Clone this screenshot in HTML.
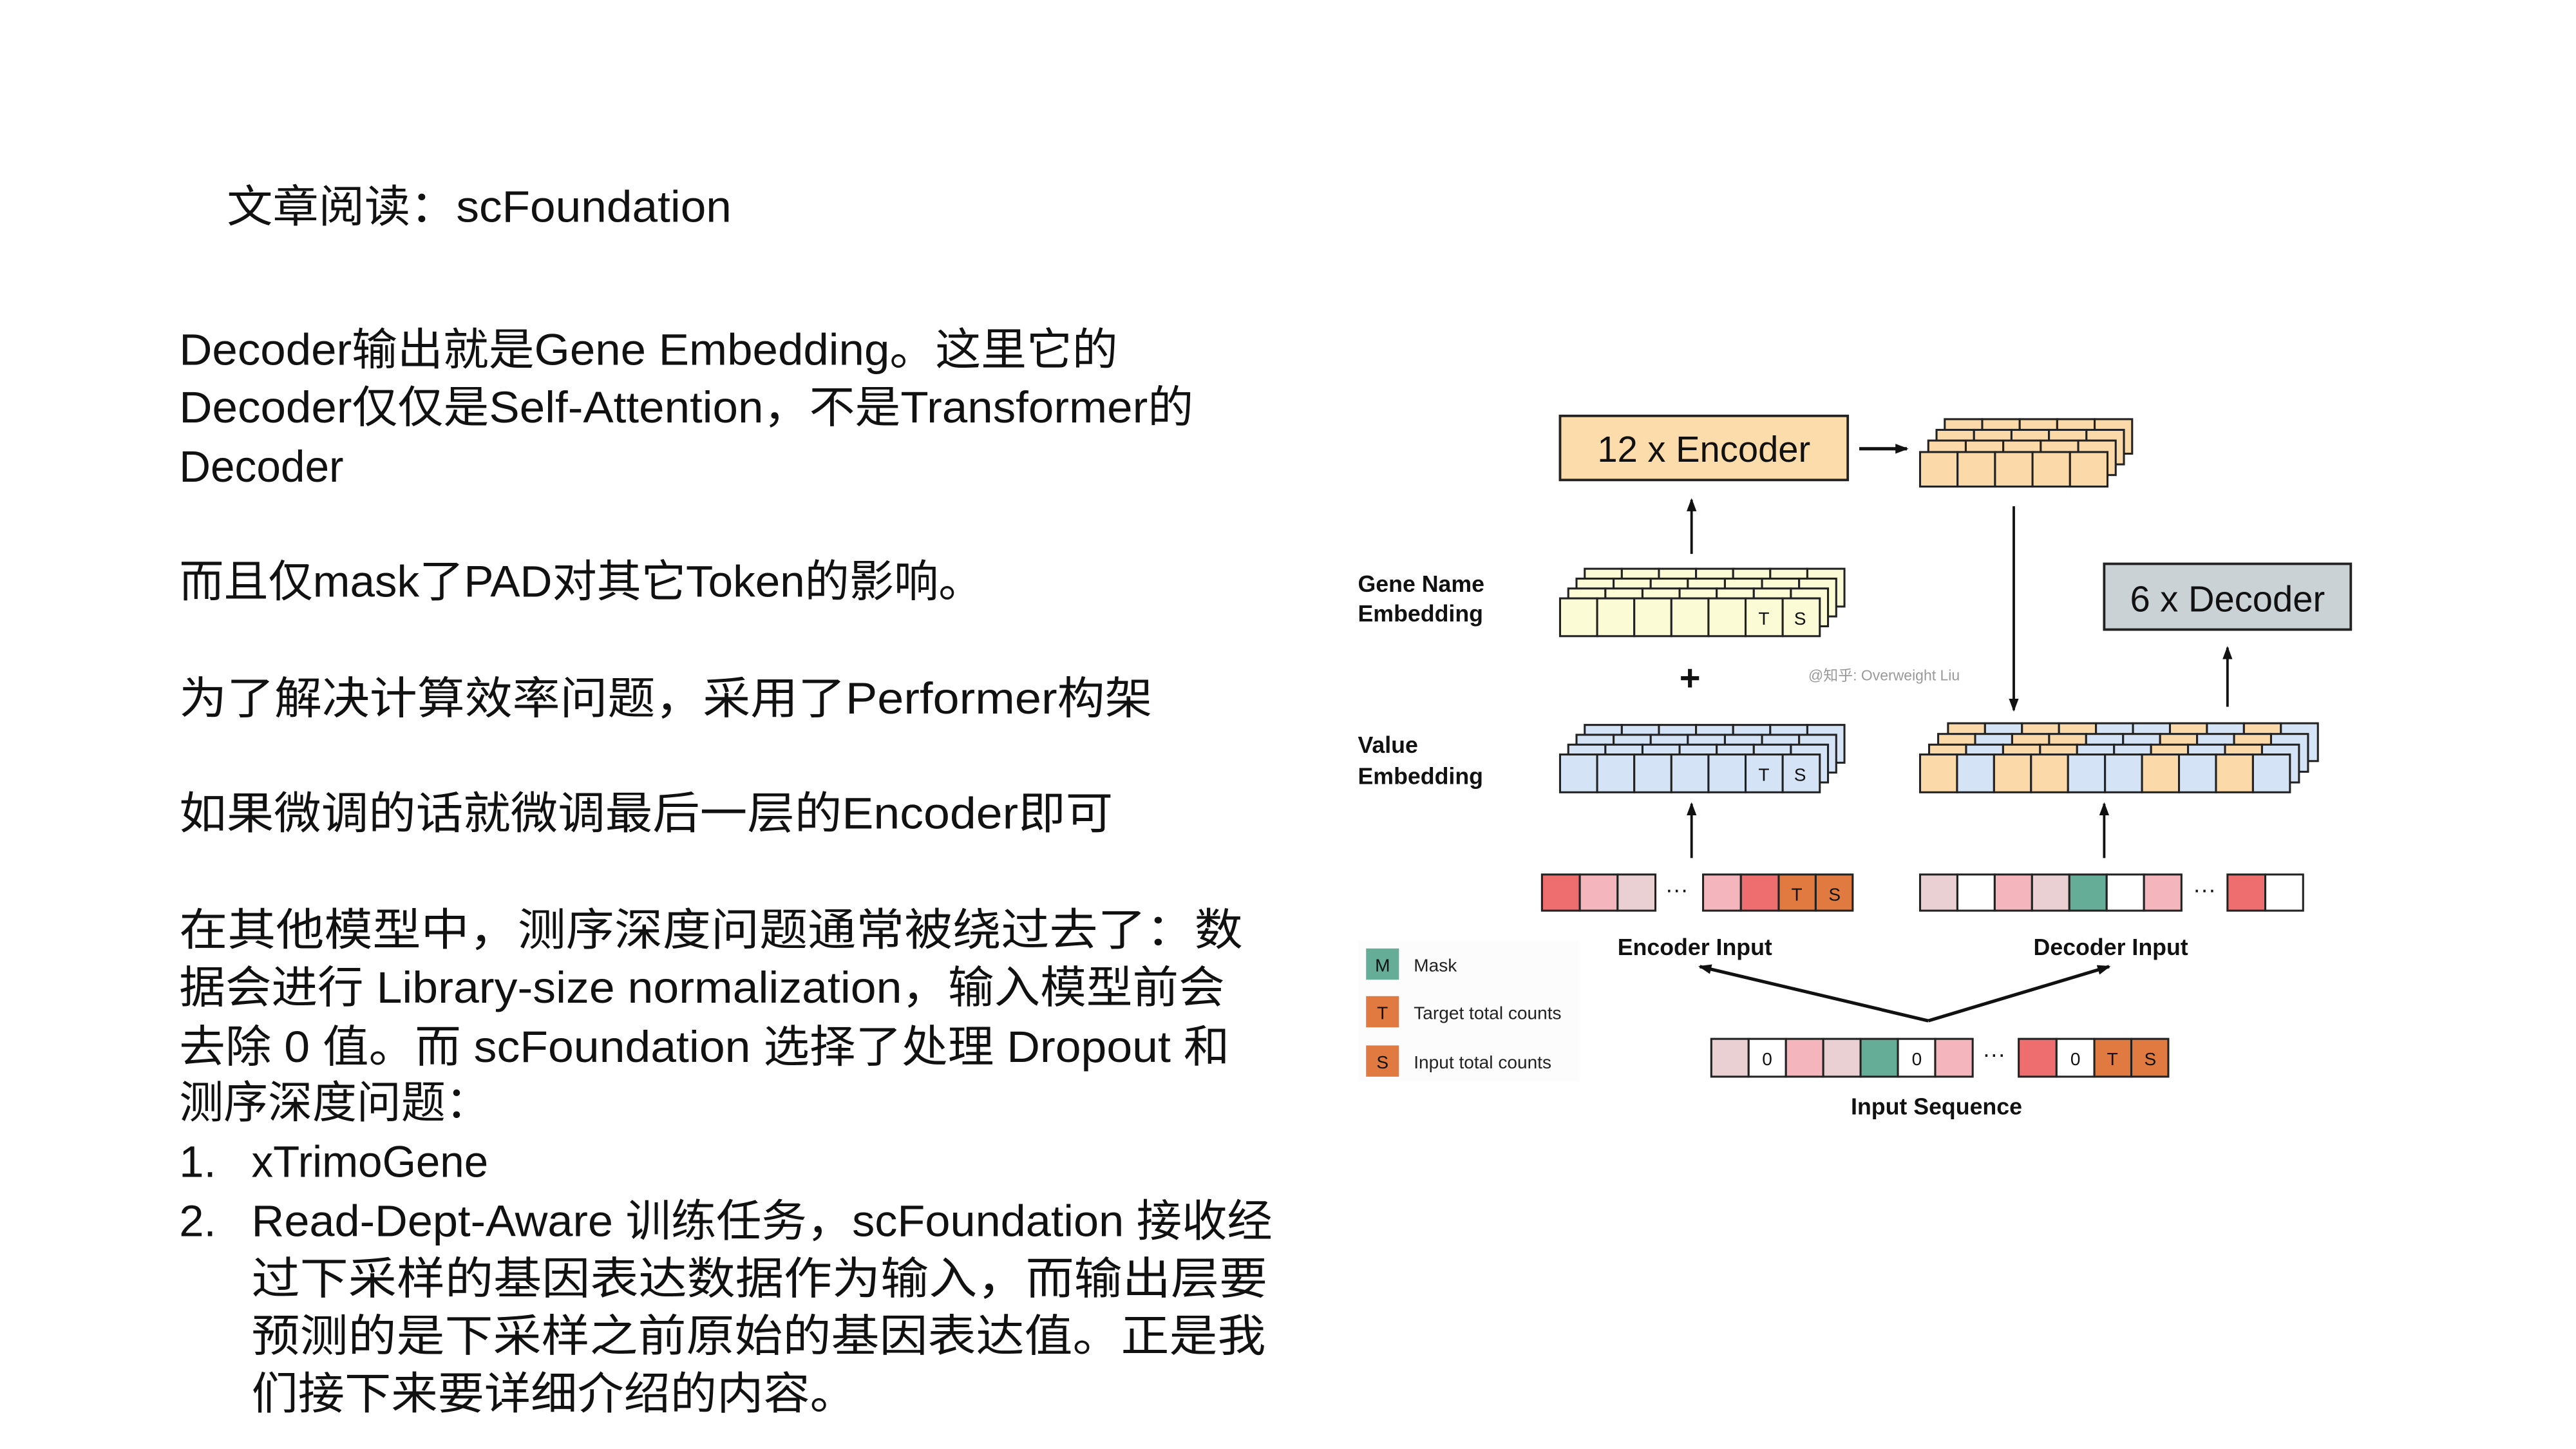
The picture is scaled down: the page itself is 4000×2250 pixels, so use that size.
<!DOCTYPE html>
<html><head><meta charset="utf-8"><style>
html,body{margin:0;padding:0;background:#fff;width:4000px;height:2250px;overflow:hidden}
svg{display:block}
.t{font-family:"Liberation Sans","Noto Sans CJK SC",sans-serif;font-size:27px;fill:#111}
.b{font-family:"Liberation Sans",sans-serif;font-weight:bold;font-size:14px;fill:#111}
.s{font-family:"Liberation Sans",sans-serif;font-size:11px;fill:#222}
.c{font-family:"Liberation Sans",sans-serif;font-size:11px;fill:#111;text-anchor:middle}
</style></head><body>
<svg width="4000" height="2250" viewBox="0 0 1567 881.5" preserveAspectRatio="none" xmlns="http://www.w3.org/2000/svg">
<defs>
<marker id="ah" markerWidth="8" markerHeight="8" refX="7" refY="4" orient="auto" markerUnits="userSpaceOnUse"><path d="M0,1 L8,4 L0,7 z" fill="#111"/></marker>
<g id="gl" stroke="#222" stroke-width="1.2" fill="#fbfbd6">
<rect x="0" y="0" width="22.57" height="23"/><rect x="22.57" y="0" width="22.57" height="23"/><rect x="45.14" y="0" width="22.57" height="23"/><rect x="67.71" y="0" width="22.57" height="23"/><rect x="90.28" y="0" width="22.57" height="23"/><rect x="112.85" y="0" width="22.57" height="23"/><rect x="135.42" y="0" width="22.57" height="23"/>
</g>
<g id="vl" stroke="#222" stroke-width="1.2" fill="#d5e3f7">
<rect x="0" y="0" width="22.57" height="23"/><rect x="22.57" y="0" width="22.57" height="23"/><rect x="45.14" y="0" width="22.57" height="23"/><rect x="67.71" y="0" width="22.57" height="23"/><rect x="90.28" y="0" width="22.57" height="23"/><rect x="112.85" y="0" width="22.57" height="23"/><rect x="135.42" y="0" width="22.57" height="23"/>
</g>
<g id="ol" stroke="#222" stroke-width="1.2" fill="#fcd9a8">
<rect x="0" y="0" width="22.8" height="21"/><rect x="22.8" y="0" width="22.8" height="21"/><rect x="45.6" y="0" width="22.8" height="21"/><rect x="68.4" y="0" width="22.8" height="21"/><rect x="91.2" y="0" width="22.8" height="21"/>
</g>
<g id="dl" stroke="#222" stroke-width="1.2">
<rect x="0" y="0" width="22.5" height="23" fill="#fcd9a8"/><rect x="22.5" y="0" width="22.5" height="23" fill="#d5e3f7"/><rect x="45" y="0" width="22.5" height="23" fill="#fcd9a8"/><rect x="67.5" y="0" width="22.5" height="23" fill="#fcd9a8"/><rect x="90" y="0" width="22.5" height="23" fill="#d5e3f7"/><rect x="112.5" y="0" width="22.5" height="23" fill="#d5e3f7"/><rect x="135" y="0" width="22.5" height="23" fill="#fcd9a8"/><rect x="157.5" y="0" width="22.5" height="23" fill="#d5e3f7"/><rect x="180" y="0" width="22.5" height="23" fill="#fcd9a8"/><rect x="202.5" y="0" width="22.5" height="23" fill="#d5e3f7"/>
</g>
</defs>

<text class="t" x="138" y="135" textLength="307" lengthAdjust="spacingAndGlyphs">文章阅读：scFoundation</text>
<text class="t" x="109" y="222" textLength="571" lengthAdjust="spacingAndGlyphs">Decoder输出就是Gene Embedding。这里它的</text>
<text class="t" x="109" y="257" textLength="617" lengthAdjust="spacingAndGlyphs">Decoder仅仅是Self-Attention，不是Transformer的</text>
<text class="t" x="109" y="293" textLength="100" lengthAdjust="spacingAndGlyphs">Decoder</text>
<text class="t" x="109" y="363" textLength="489" lengthAdjust="spacingAndGlyphs">而且仅mask了PAD对其它Token的影响。</text>
<text class="t" x="109" y="434" textLength="592" lengthAdjust="spacingAndGlyphs">为了解决计算效率问题，采用了Performer构架</text>
<text class="t" x="109" y="504" textLength="568" lengthAdjust="spacingAndGlyphs">如果微调的话就微调最后一层的Encoder即可</text>
<text class="t" x="109" y="575" textLength="647" lengthAdjust="spacingAndGlyphs">在其他模型中，测序深度问题通常被绕过去了：数</text>
<text class="t" x="109" y="610" textLength="636" lengthAdjust="spacingAndGlyphs">据会进行 Library-size normalization，输入模型前会</text>
<text class="t" x="109" y="646" textLength="639" lengthAdjust="spacingAndGlyphs">去除 0 值。而 scFoundation 选择了处理 Dropout 和</text>
<text class="t" x="109" y="680" textLength="189" lengthAdjust="spacingAndGlyphs">测序深度问题：</text>
<text class="t" x="109" y="716">1.</text>
<text class="t" x="153" y="716" textLength="144" lengthAdjust="spacingAndGlyphs">xTrimoGene</text>
<text class="t" x="109" y="752">2.</text>
<text class="t" x="153" y="752" textLength="621" lengthAdjust="spacingAndGlyphs">Read-Dept-Aware 训练任务，scFoundation 接收经</text>
<text class="t" x="153" y="787" textLength="618" lengthAdjust="spacingAndGlyphs">过下采样的基因表达数据作为输入，而输出层要</text>
<text class="t" x="153" y="822" textLength="617" lengthAdjust="spacingAndGlyphs">预测的是下采样之前原始的基因表达值。正是我</text>
<text class="t" x="153" y="857" textLength="368" lengthAdjust="spacingAndGlyphs">们接下来要详细介绍的内容。</text>

<rect x="949" y="253" width="175" height="39" fill="#fcdcab" stroke="#222" stroke-width="1.5"/>
<text x="1036.5" y="281" font-family="Liberation Sans,sans-serif" font-size="22" text-anchor="middle" fill="#111">12 x Encoder</text>
<line x1="1131" y1="273" x2="1160" y2="273" stroke="#111" stroke-width="2" marker-end="url(#ah)"/>
<use href="#ol" x="1183" y="255"/><use href="#ol" x="1178" y="261.5"/><use href="#ol" x="1173" y="268"/><use href="#ol" x="1168" y="275"/>

<line x1="1029" y1="337" x2="1029" y2="304" stroke="#111" stroke-width="1.5" marker-end="url(#ah)"/>

<text class="b" x="826" y="360">Gene Name</text>
<text class="b" x="826" y="378">Embedding</text>
<use href="#gl" x="964" y="346"/><use href="#gl" x="959" y="352"/><use href="#gl" x="954" y="358"/><use href="#gl" x="949" y="364"/>
<text class="c" x="1073" y="380">T</text><text class="c" x="1095" y="380">S</text>

<text x="1028" y="420" font-family="Liberation Sans,sans-serif" font-size="22" font-weight="bold" text-anchor="middle" fill="#111">+</text>
<text x="1100" y="414" font-family="Liberation Sans,'Noto Sans CJK SC',sans-serif" font-size="9" fill="#999">@知乎: Overweight Liu</text>

<text class="b" x="826" y="458">Value</text>
<text class="b" x="826" y="477">Embedding</text>
<use href="#vl" x="964" y="441"/><use href="#vl" x="959" y="447"/><use href="#vl" x="954" y="453"/><use href="#vl" x="949" y="459"/>
<text class="c" x="1073" y="475">T</text><text class="c" x="1095" y="475">S</text>

<line x1="1225" y1="308" x2="1225" y2="432" stroke="#111" stroke-width="1.5" marker-end="url(#ah)"/>

<rect x="1280" y="343" width="150" height="40" fill="#cbd2d6" stroke="#222" stroke-width="1.5"/>
<text x="1355" y="372" font-family="Liberation Sans,sans-serif" font-size="22" text-anchor="middle" fill="#111">6 x Decoder</text>
<line x1="1355" y1="430" x2="1355" y2="394" stroke="#111" stroke-width="1.5" marker-end="url(#ah)"/>

<use href="#dl" x="1185" y="440"/><use href="#dl" x="1179" y="446.5"/><use href="#dl" x="1173.5" y="453"/><use href="#dl" x="1168" y="459"/>

<line x1="1029" y1="522" x2="1029" y2="489" stroke="#111" stroke-width="1.5" marker-end="url(#ah)"/>
<line x1="1280" y1="522" x2="1280" y2="489" stroke="#111" stroke-width="1.5" marker-end="url(#ah)"/>

<g stroke="#222" stroke-width="1.2">
<rect x="938" y="532" width="23" height="22" fill="#ee6e70"/><rect x="961" y="532" width="23" height="22" fill="#f4b6bc"/><rect x="984" y="532" width="23" height="22" fill="#ebd0d3"/>
<rect x="1036" y="532" width="23" height="22" fill="#f4b6bc"/><rect x="1059" y="532" width="23" height="22" fill="#ee6e70"/><rect x="1082" y="532" width="22.5" height="22" fill="#e07a40"/><rect x="1104.5" y="532" width="22.5" height="22" fill="#e07a40"/>
</g>
<text x="1020" y="546" font-family="Liberation Sans,sans-serif" font-size="14" text-anchor="middle" fill="#111">···</text>
<text class="c" x="1093" y="548">T</text><text class="c" x="1116" y="548">S</text>

<g stroke="#222" stroke-width="1.2">
<rect x="1168" y="532" width="22.7" height="22" fill="#ebd0d3"/><rect x="1190.7" y="532" width="22.7" height="22" fill="#fff"/><rect x="1213.4" y="532" width="22.7" height="22" fill="#f4b6bc"/><rect x="1236.1" y="532" width="22.7" height="22" fill="#ebd0d3"/><rect x="1258.8" y="532" width="22.7" height="22" fill="#66ad97"/><rect x="1281.5" y="532" width="22.7" height="22" fill="#fff"/><rect x="1304.2" y="532" width="22.8" height="22" fill="#f4b6bc"/>
<rect x="1355" y="532" width="23" height="22" fill="#ee6e70"/><rect x="1378" y="532" width="23" height="22" fill="#fff"/>
</g>
<text x="1341" y="546" font-family="Liberation Sans,sans-serif" font-size="14" text-anchor="middle" fill="#111">···</text>

<text class="b" x="1031" y="581" text-anchor="middle">Encoder Input</text>
<text class="b" x="1284" y="581" text-anchor="middle">Decoder Input</text>

<line x1="1173" y1="621" x2="1034" y2="588" stroke="#111" stroke-width="2" marker-end="url(#ah)"/>
<line x1="1173" y1="621" x2="1283" y2="588" stroke="#111" stroke-width="2" marker-end="url(#ah)"/>

<g stroke="#222" stroke-width="1.2">
<rect x="1041" y="632" width="22.7" height="23" fill="#ebd0d3"/><rect x="1063.7" y="632" width="22.7" height="23" fill="#fff"/><rect x="1086.4" y="632" width="22.7" height="23" fill="#f4b6bc"/><rect x="1109.1" y="632" width="22.7" height="23" fill="#ebd0d3"/><rect x="1131.8" y="632" width="22.7" height="23" fill="#66ad97"/><rect x="1154.5" y="632" width="22.7" height="23" fill="#fff"/><rect x="1177.2" y="632" width="22.8" height="23" fill="#f4b6bc"/>
<rect x="1228" y="632" width="23" height="23" fill="#ee6e70"/><rect x="1251" y="632" width="23" height="23" fill="#fff"/><rect x="1274" y="632" width="22.5" height="23" fill="#e07a40"/><rect x="1296.5" y="632" width="22.5" height="23" fill="#e07a40"/>
</g>
<text class="c" x="1075" y="648">0</text><text class="c" x="1166" y="648">0</text><text class="c" x="1262.5" y="648">0</text><text class="c" x="1285" y="648">T</text><text class="c" x="1308" y="648">S</text>
<text x="1213" y="646" font-family="Liberation Sans,sans-serif" font-size="14" text-anchor="middle" fill="#111">···</text>
<text class="b" x="1178" y="678" text-anchor="middle">Input Sequence</text>

<rect x="826" y="572" width="135" height="86" fill="#fcfcfc"/>
<rect x="831" y="577" width="20" height="19" fill="#66ad97"/>
<rect x="831" y="606" width="20" height="19" fill="#e07a40"/>
<rect x="831" y="636" width="20" height="19" fill="#e07a40"/>
<text class="c" x="841" y="591">M</text><text class="c" x="841" y="620">T</text><text class="c" x="841" y="650">S</text>
<text class="s" x="860" y="591">Mask</text>
<text class="s" x="860" y="620">Target total counts</text>
<text class="s" x="860" y="650">Input total counts</text>
</svg>
</body></html>
